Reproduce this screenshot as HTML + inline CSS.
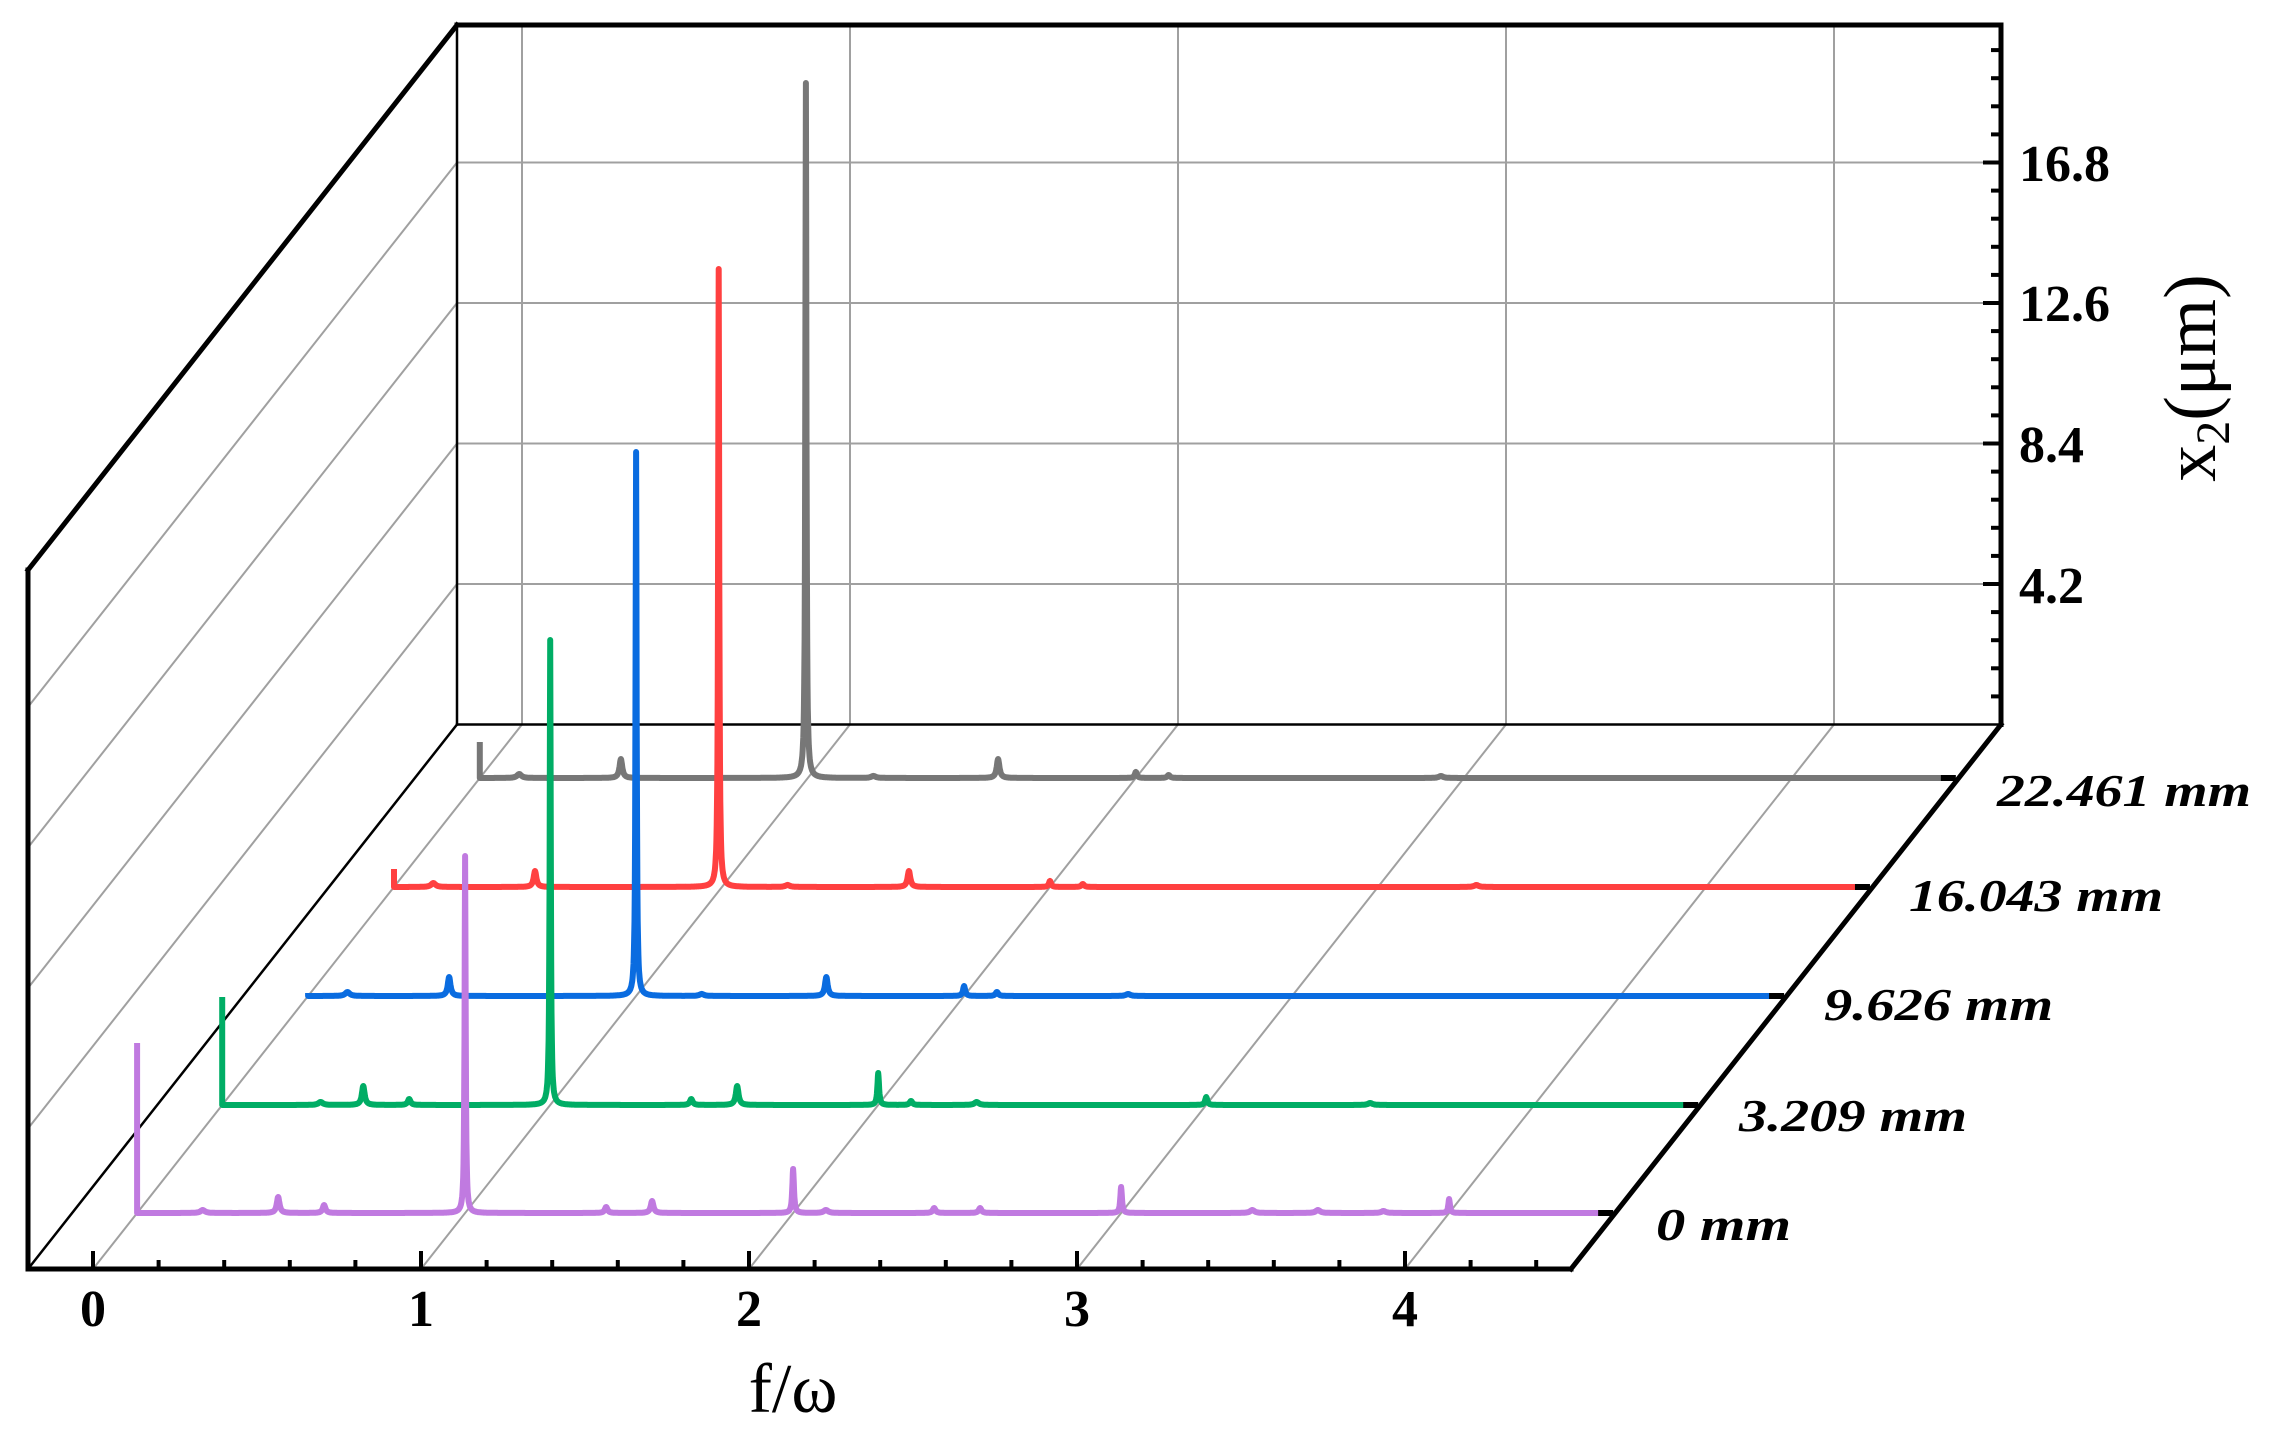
<!DOCTYPE html>
<html><head><meta charset="utf-8"><style>
html,body{margin:0;padding:0;background:#fff;}
svg{display:block;}
</style></head><body>
<svg id="s" width="2282" height="1446" viewBox="0 0 2282 1446" xmlns="http://www.w3.org/2000/svg">
<g id="grid" stroke="#a0a0a0" stroke-width="2" fill="none"></g>
<g id="frame" stroke="#000" fill="none" stroke-linecap="square">
<line x1="457" y1="25" x2="457" y2="724.5" stroke-width="2.5"/>
<line x1="457" y1="724.5" x2="2001" y2="724.5" stroke-width="2.5"/>
<line x1="28" y1="1269" x2="457" y2="724.5" stroke-width="2.5"/>
<line x1="28" y1="570" x2="457" y2="25" stroke-width="5"/>
<line x1="457" y1="25" x2="2001" y2="25" stroke-width="5"/>
<line x1="2001" y1="25" x2="2001" y2="724.5" stroke-width="5"/>
<line x1="2001" y1="724.5" x2="1571" y2="1269" stroke-width="5"/>
<line x1="28" y1="1269" x2="1571" y2="1269" stroke-width="5"/>
<line x1="28" y1="570" x2="28" y2="1269" stroke-width="5"/>
</g>
<g id="ticks" stroke="#000" stroke-width="4"></g>
<g id="series" fill="none" stroke-width="6" stroke-linejoin="round"></g>
<g font-family="'Liberation Serif',serif" font-weight="bold" font-size="52" fill="#000">
<text x="2019" y="181">16.8</text>
<text x="2019" y="321">12.6</text>
<text x="2019" y="462">8.4</text>
<text x="2019" y="603">4.2</text>
<text x="93" y="1326" text-anchor="middle">0</text>
<text x="421" y="1326" text-anchor="middle">1</text>
<text x="749" y="1326" text-anchor="middle">2</text>
<text x="1077" y="1326" text-anchor="middle">3</text>
<text x="1405" y="1326" text-anchor="middle">4</text>
</g>
<g font-family="'Liberation Serif',serif" font-weight="bold" font-style="italic" font-size="46" fill="#000">
<text x="1997" y="806" textLength="254" lengthAdjust="spacingAndGlyphs">22.461 mm</text>
<text x="1909" y="911" textLength="254" lengthAdjust="spacingAndGlyphs">16.043 mm</text>
<text x="1824" y="1020" textLength="229" lengthAdjust="spacingAndGlyphs">9.626 mm</text>
<text x="1739" y="1131" textLength="228" lengthAdjust="spacingAndGlyphs">3.209 mm</text>
<text x="1656" y="1240" textLength="135" lengthAdjust="spacingAndGlyphs">0 mm</text>
</g>
<text x="793" y="1412" font-family="'Liberation Serif',serif" font-size="70" text-anchor="middle">f/ω</text>
<text transform="translate(2215,378) rotate(-90)" font-family="'Liberation Serif',serif" font-size="74" text-anchor="middle">x<tspan font-size="48" dy="14">2</tspan><tspan dy="-14">(μm)</tspan></text>
</svg>
<script>
(function(){
var NS="http://www.w3.org/2000/svg";
function el(p,tag,a){var e=document.createElementNS(NS,tag);for(var k in a)e.setAttribute(k,a[k]);p.appendChild(e);return e;}
var grid=document.getElementById('grid'),ticks=document.getElementById('ticks'),ser=document.getElementById('series');
var DX=429,DY=544.5,ZS=140.5/4.2;
for(var f=0;f<=4;f++){
 var xb=522+328*f, xf=93+328*f;
 el(grid,'line',{x1:xb,y1:25,x2:xb,y2:724.5});
 el(grid,'line',{x1:xf,y1:1269,x2:xb,y2:724.5});
}
for(var k=1;k<=4;k++){
 var yb=724.5-140.5*k, yf=1269-140.5*k;
 el(grid,'line',{x1:457,y1:yb,x2:2001,y2:yb});
 el(grid,'line',{x1:28,y1:yf,x2:457,y2:yb});
}
for(var i=0;i<=22;i++){
 var fv=i*0.2, x=93+328*fv; if(x>1565)break;
 var L=(i%5==0)?18:9;
 el(ticks,'line',{x1:x,y1:1269,x2:x,y2:1269-L});
}
for(var j=1;j<=24;j++){
 var z=j*0.84, y=724.5-z*ZS; if(y<30)break;
 var L=(j%5==0)?18:10;
 el(ticks,'line',{x1:2001,y1:y,x2:2001-L,y2:y});
}
var S=[
 {c:'#777777',y:778,dc:36,pk:[[0.994,695,0.002],[0.43,19,0.005],[1.58,19,0.005],[2.0,6,0.004],[2.1,3,0.005],[0.12,4,0.008],[1.2,2,0.008],[2.93,2,0.008]]},
 {c:'#ff4040',y:887,dc:18,pk:[[0.99,618,0.002],[0.43,16,0.005],[1.57,16,0.005],[2.0,6,0.004],[2.1,3,0.005],[0.12,4,0.008],[1.2,2,0.008],[3.3,2,0.008]]},
 {c:'#0a6ce0',y:996,dc:3,pk:[[1.0,544,0.002],[0.43,19,0.005],[1.58,19,0.005],[2.0,10,0.004],[2.1,4,0.005],[0.12,4,0.008],[1.2,2,0.008],[2.5,2,0.008]]},
 {c:'#00ad65',y:1105,dc:108,pk:[[1.0,465,0.002],[0.43,19,0.005],[0.57,6,0.005],[1.43,6,0.005],[1.57,19,0.005],[2.0,32,0.003],[2.1,4,0.005],[3.0,8,0.004],[0.3,3,0.008],[2.3,3,0.008],[3.5,2,0.008]]},
 {c:'#c07ae0',y:1213,dc:170,pk:[[1.0,357,0.002],[0.43,16,0.005],[0.57,8,0.005],[1.43,6,0.005],[1.57,12,0.005],[2.0,44,0.003],[2.43,5,0.005],[2.57,5,0.005],[3.0,26,0.003],[4.0,14,0.003],[0.2,3,0.008],[2.1,3,0.008],[3.4,3,0.008],[3.6,3,0.008],[3.8,2,0.008]]}
];
S.forEach(function(s){
 var dx=(1269-s.y)*DX/DY, x0=93+dx;
 var fend=4.49;
 var d='M'+x0.toFixed(1)+','+(s.y-s.dc).toFixed(1)+'L'+x0.toFixed(1)+','+s.y;
 for(var n=1;n<=Math.round(fend*1000);n++){
  var f=n/1000, h=0;
  s.pk.forEach(function(p){var u=(f-p[0])/p[2];h+=p[1]/(1+u*u);});
  d+='L'+(x0+328*f).toFixed(1)+','+(s.y-h).toFixed(1);
 }
 el(ser,'path',{d:d,stroke:s.c});
 var xe=1571+(1269-s.y)*DX/DY;
 el(ser,'line',{x1:xe-17,y1:s.y,x2:xe-2,y2:s.y,stroke:'#000','stroke-width':6});
});
})();
</script>
</body></html>
